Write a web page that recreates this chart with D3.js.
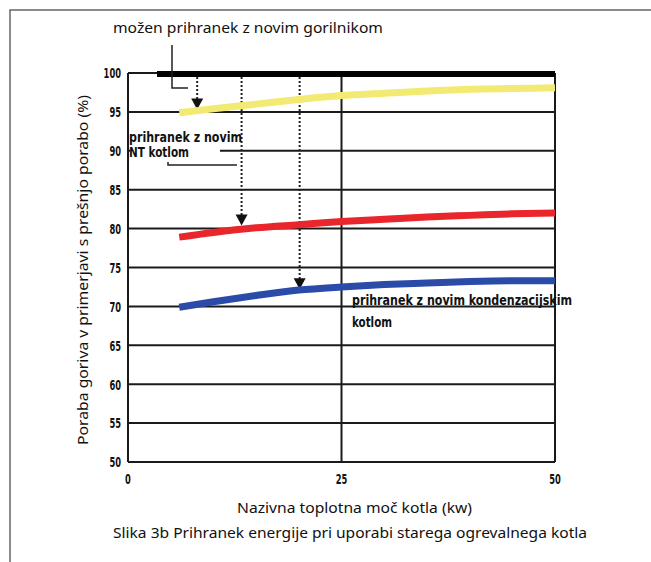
<!DOCTYPE html>
<html lang="sl">
<head>
    <meta charset="UTF-8">
    <title>Prihranek energije</title>
    <script src="https://d3js.org/d3.v7.min.js"></script>
    <style>
        body { margin: 0; background: #fff; }
        .tick-lbl { font-family: "Liberation Sans Narrow", "DejaVu Sans Condensed", "Arial Narrow", sans-serif; font-weight: bold; font-size: 14px; fill: #111; }
        .note { font-family: "Liberation Sans Narrow", "DejaVu Sans Condensed", "Arial Narrow", sans-serif; font-weight: bold; font-size: 14px; fill: #111; }
        .txt { font-family: "Noto Sans", "Open Sans", sans-serif; font-size: 15px; fill: #111; }
    </style>
</head>
<body>
<div id="chart"></div>
<script>
    // data
    var kw = [6, 10, 15, 20, 25, 30, 35, 40, 45, 50];
    var burner = [94.9, 95.4, 96.0, 96.6, 97.1, 97.4, 97.7, 97.9, 98.0, 98.1];   // yellow
    var ntBoiler = [78.9, 79.5, 80.1, 80.5, 80.9, 81.2, 81.5, 81.7, 81.9, 82.0]; // red
    var condBoiler = [69.9, 70.6, 71.4, 72.1, 72.5, 72.8, 73.0, 73.2, 73.3, 73.3]; // blue
    var refLine = [3.4, 50];   // 100 % line, kW range
    var yTicks = [50, 55, 60, 65, 70, 75, 80, 85, 90, 95, 100];
    var xTicks = [0, 25, 50];
    // dotted arrows: kW position, arrow tip value
    var arrows = [[8.1, 95.3], [13.3, 80.4], [20.1, 72.2]];

    var W = 651, H = 562;
    var svg = d3.select('#chart').append('svg')
        .attr('width', W)
        .attr('height', H);

    var x = d3.scaleLinear().domain([0, 50]).range([128, 555]);
    var y = d3.scaleLinear().domain([50, 100]).range([462, 73]);

    // outer frame (top + left only)
    svg.append('path')
        .attr('d', 'M10,' + H + 'V10H' + W)
        .attr('fill', 'none')
        .attr('stroke', '#666')
        .attr('stroke-width', 1.5);

    // horizontal grid
    svg.append('g').selectAll('line')
        .data(yTicks)
        .enter().append('line')
        .attr('x1', x(0)).attr('x2', x(50))
        .attr('y1', function(d) { return y(d); })
        .attr('y2', function(d) { return y(d); })
        .attr('stroke', '#1a1a1a')
        .attr('stroke-width', 2);

    // vertical grid (0, 25, 50)
    svg.append('g').selectAll('line')
        .data(xTicks)
        .enter().append('line')
        .attr('x1', function(d) { return x(d); })
        .attr('x2', function(d) { return x(d); })
        .attr('y1', y(100)).attr('y2', y(50))
        .attr('stroke', '#1a1a1a')
        .attr('stroke-width', 2);

    // y tick labels (narrow, tall digits)
    svg.append('g').selectAll('text')
        .data(yTicks)
        .enter().append('text')
        .attr('class', 'tick-lbl')
        .attr('x', x(0) - 7)
        .attr('y', function(d) { return y(d); })
        .attr('dy', '0.38em')
        .attr('text-anchor', 'end')
        .attr('textLength', function(d) { return String(d).length * 5.8; })
        .attr('lengthAdjust', 'spacingAndGlyphs')
        .text(function(d) { return d; });

    // x tick labels
    svg.append('g').selectAll('text')
        .data(xTicks)
        .enter().append('text')
        .attr('class', 'tick-lbl')
        .attr('x', function(d) { return x(d); })
        .attr('y', 484)
        .attr('text-anchor', 'middle')
        .attr('textLength', function(d) { return String(d).length * 5.8; })
        .attr('lengthAdjust', 'spacingAndGlyphs')
        .text(function(d) { return d; });

    // white patch behind first note
    svg.append('rect')
        .attr('x', x(0) + 2).attr('y', 128)
        .attr('width', 90).attr('height', 32)
        .attr('fill', '#fff');

    // dotted arrows
    arrows.forEach(function(a) {
        var tip = y(a[1]);
        svg.append('line')
            .attr('x1', x(a[0])).attr('x2', x(a[0]))
            .attr('y1', y(100) + 4).attr('y2', tip - 8)
            .attr('stroke', '#222')
            .attr('stroke-width', 2)
            .attr('stroke-dasharray', '2,2');
        svg.append('path')
            .attr('d', 'M' + (x(a[0]) - 6) + ',' + (tip - 11) + 'H' + (x(a[0]) + 6) + 'L' + x(a[0]) + ',' + tip + 'Z')
            .attr('fill', '#111');
    });

    var line = d3.line()
        .x(function(d) { return x(d[0]); })
        .y(function(d) { return y(d[1]); })
        .curve(d3.curveMonotoneX);

    var series = [
        { v: burner, c: '#f2ea72' },
        { v: ntBoiler, c: '#e8262b' },
        { v: condBoiler, c: '#2a4ba8' }
    ];
    series.forEach(function(s) {
        svg.append('path')
            .datum(d3.zip(kw, s.v))
            .attr('d', line)
            .attr('fill', 'none')
            .attr('stroke', s.c)
            .attr('stroke-width', 7);
    });

    // thick 100 % line
    svg.append('line')
        .attr('x1', x(refLine[0])).attr('x2', x(refLine[1]))
        .attr('y1', y(100) + 1).attr('y2', y(100) + 1)
        .attr('stroke', '#000')
        .attr('stroke-width', 6);

    // leader for burner label
    svg.append('path')
        .attr('d', 'M172,45V88H188')
        .attr('fill', 'none')
        .attr('stroke', '#222')
        .attr('stroke-width', 1.5);

    // leader under NT note
    svg.append('path')
        .attr('d', 'M168,162V165H237')
        .attr('fill', 'none')
        .attr('stroke', '#222')
        .attr('stroke-width', 1.5);

    // notes
    svg.append('text').attr('class', 'note')
        .attr('x', 129).attr('y', 142)
        .attr('textLength', 113).attr('lengthAdjust', 'spacingAndGlyphs')
        .text('prihranek z novim');
    svg.append('text').attr('class', 'note')
        .attr('x', 129).attr('y', 157)
        .attr('textLength', 60).attr('lengthAdjust', 'spacingAndGlyphs')
        .text('NT kotlom');
    svg.append('text').attr('class', 'note')
        .attr('x', 352).attr('y', 305)
        .attr('textLength', 220).attr('lengthAdjust', 'spacingAndGlyphs')
        .text('prihranek z novim kondenzacijskim');
    svg.append('text').attr('class', 'note')
        .attr('x', 352).attr('y', 327)
        .attr('textLength', 40).attr('lengthAdjust', 'spacingAndGlyphs')
        .text('kotlom');

    // texts
    svg.append('text').attr('class', 'txt')
        .attr('x', 113).attr('y', 33)
        .attr('textLength', 270).attr('lengthAdjust', 'spacingAndGlyphs')
        .text('možen prihranek z novim gorilnikom');

    svg.append('text').attr('class', 'txt')
        .attr('transform', 'translate(88,270) rotate(-90)')
        .attr('text-anchor', 'middle')
        .attr('textLength', 350).attr('lengthAdjust', 'spacingAndGlyphs')
        .text('Poraba goriva v primerjavi s prešnjo porabo (%)');

    svg.append('text').attr('class', 'txt')
        .attr('x', 237).attr('y', 513)
        .attr('textLength', 235).attr('lengthAdjust', 'spacingAndGlyphs')
        .text('Nazivna toplotna moč kotla (kw)');

    svg.append('text').attr('class', 'txt')
        .attr('x', 113).attr('y', 538)
        .attr('textLength', 474).attr('lengthAdjust', 'spacingAndGlyphs')
        .text('Slika 3b Prihranek energije pri uporabi starega ogrevalnega kotla');
</script>
</body>
</html>
